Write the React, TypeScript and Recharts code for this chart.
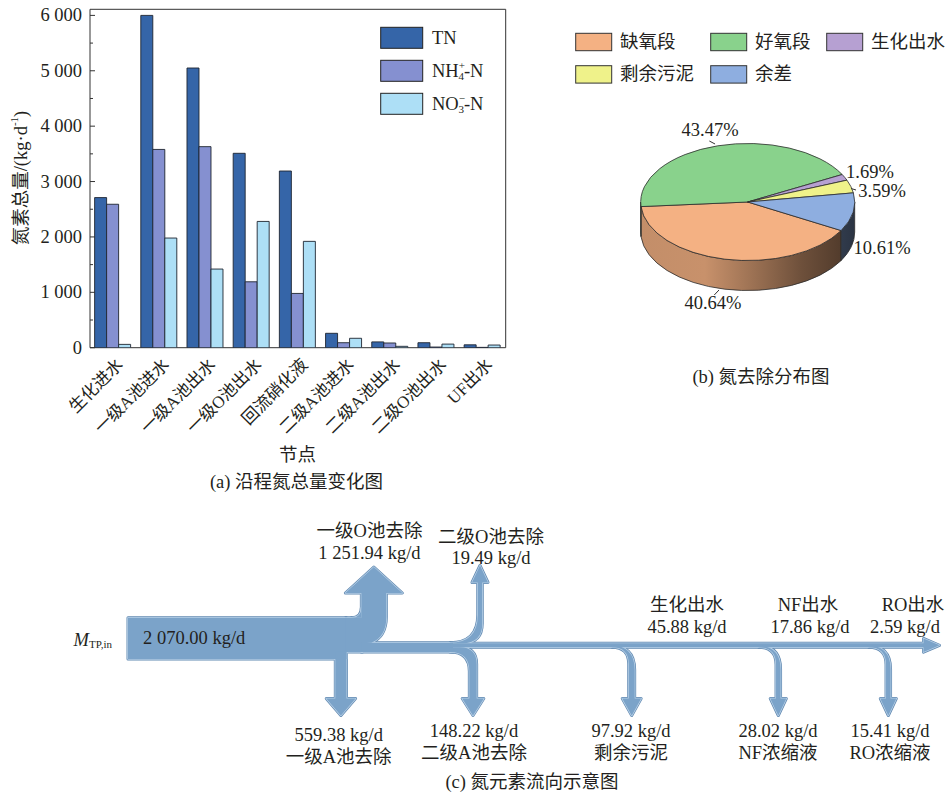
import React from 'react';
import {
  BarChart,
  Bar,
  XAxis,
  YAxis,
  ReferenceArea,
  PieChart,
  Pie,
  Cell,
  Surface,
} from 'recharts';

const FONT = "'Liberation Serif', 'Times New Roman', 'Noto Sans CJK SC', serif";
const INK = '#231f20';
const AXIS = '#333333';

// (a) 沿程氮总量 (kg/d)
const NODES = ['生化进水', '一级A池进水', '一级A池出水', '一级O池出水', '回流硝化液', '二级A池进水', '二级A池出水', '二级O池出水', 'UF出水'];
const TN = [2710, 6000, 5050, 3510, 3190, 260, 105, 90, 52];
const NH4 = [2590, 3580, 3630, 1190, 980, 90, 85, 12, 6];
const NO3 = [60, 1980, 1420, 2280, 1920, 170, 25, 65, 48];
const LOAD_TICKS = [0, 500, 1000, 1500, 2000, 2500, 3000, 3500, 4000, 4500, 5000, 5500, 6000];

// (b) 氮去除分布 (%)
const PIE_NAMES = ['缺氧段', '好氧段', '生化出水', '剩余污泥', '余差'];
const PIE_SHARES = [40.64, 43.47, 1.69, 3.59, 10.61];
const PIE_COLORS = ['#f4b183', '#89d28c', '#b6a0d2', '#eff28a', '#8eaee0'];

// (c) 氮元素流向 (kg/d)
const FLOW_IN = 2070.0;
const UP_NAMES = ['一级O池去除', '二级O池去除'];
const UP_VALUES = [1251.94, 19.49];
const DOWN_NAMES = ['一级A池去除', '二级A池去除', '剩余污泥', 'NF浓缩液', 'RO浓缩液'];
const DOWN_VALUES = [559.38, 148.22, 97.92, 28.02, 15.41];
const OUT_NAMES = ['生化出水', 'NF出水', 'RO出水'];
const OUT_VALUES = [45.88, 17.86, 2.59];

const BAR_COLORS = { TN: '#3565a8', NH4: '#8590d0', NO3: '#addff6' };

const rows = NODES.map((node, i) => ({ node, TN: TN[i], NH4: NH4[i], NO3: NO3[i] }));
const pieData = PIE_NAMES.map((name, i) => ({ name, value: PIE_SHARES[i] }));

const fmtLoad = (v: number) =>
  v >= 1000 ? `${Math.floor(v / 1000)} ${String(v % 1000).padStart(3, '0')}` : String(v);

const fmtKg = (v: number) => {
  const [i, d] = v.toFixed(2).split('.');
  const head = i.length > 3 ? `${i.slice(0, -3)} ${i.slice(-3)}` : i;
  return `${head}.${d} kg/d`;
};

const LoadTick = (props: any) => {
  const { x, y, payload } = props;
  const v = payload.value as number;
  const major = v % 1000 === 0;
  return (
    <g>
      <line x1={x} x2={x + (major ? 5 : 3)} y1={y} y2={y} stroke={AXIS} />
      {major && (
        <text x={x - 8} y={y} textAnchor="end" dominantBaseline="central" fontSize={18.5} fill={INK} fontFamily={FONT}>
          {fmtLoad(v)}
        </text>
      )}
    </g>
  );
};

const NodeTick = (props: any) => {
  const { x, y, payload } = props;
  return (
    <text
      transform={`translate(${x + 11},${y + 18}) rotate(-45)`}
      textAnchor="end"
      fontSize={17}
      fill={INK}
      fontFamily={FONT}
    >
      {payload.value}
    </text>
  );
};

// ---------- 3D pie pieces ----------
const TILT = 0.547;
const DEPTH = 30;
const RAD = Math.PI / 180;

const shade = (hex: string, f: number) => {
  const n = parseInt(hex.slice(1), 16);
  const r = Math.round(((n >> 16) & 255) * f);
  const g = Math.round(((n >> 8) & 255) * f);
  const b = Math.round((n & 255) * f);
  return `rgb(${r},${g},${b})`;
};

const PIE_LABELS = [
  { dx: -11.8, dy: 13.8, bottom: true, line: [-5.8, 0.8, -10.5, 5.8] },
  { dx: -7.7, dy: -15.8, bottom: false, line: [-2.7, -1.8, -8.4, -4.8] },
  { dx: 25.3, dy: -5, bottom: false, line: null },
  { dx: 31.2, dy: 4.6, bottom: false, line: [0.2, 2.1, 5.2, 3.6] },
  { dx: 29, dy: 35.4, bottom: false, line: null },
];

const renderSlice3D = (props: any) => {
  const { cx, cy, outerRadius, startAngle, endAngle, midAngle, index, payload } = props;
  const rx = outerRadius;
  const ry = rx * TILT;
  const color = PIE_COLORS[index];
  const pt = (a: number, dy = 0) => `${cx + rx * Math.cos(a * RAD)},${cy - ry * Math.sin(a * RAD) + dy}`;
  const a1 = Math.max(startAngle, endAngle);
  const a2 = Math.min(startAngle, endAngle);
  const large = a1 - a2 > 180 ? 1 : 0;
  const top = `M${cx},${cy} L${pt(a1)} A${rx},${ry} 0 ${large} 1 ${pt(a2)} Z`;

  // visible front wall: the part of the arc lying on the lower half of the ellipse
  const walls: string[] = [];
  [0, -360, 360, -720].forEach((k) => {
    const hi = Math.min(a1, k);
    const lo = Math.max(a2, -180 + k);
    if (hi > lo) {
      walls.push(
        `M${pt(hi)} A${rx},${ry} 0 0 1 ${pt(lo)} L${pt(lo, DEPTH)} A${rx},${ry} 0 0 0 ${pt(hi, DEPTH)} Z`
      );
    }
  });

  const lay = PIE_LABELS[index];
  const px = cx + rx * Math.cos(midAngle * RAD);
  const py = cy - ry * Math.sin(midAngle * RAD) + (lay.bottom ? DEPTH : 0);
  const gid = `pieSide${index}`;

  return (
    <g key={`slice-${index}`}>
      <defs>
        <linearGradient id={gid} gradientUnits="userSpaceOnUse" x1={cx - rx} x2={cx + rx} y1={0} y2={0}>
          <stop offset="0" stopColor={shade(color, 0.8)} />
          <stop offset="0.3" stopColor={shade(color, 0.82)} />
          <stop offset="0.5" stopColor={shade(color, 0.66)} />
          <stop offset="0.75" stopColor={shade(color, 0.45)} />
          <stop offset="1" stopColor={shade(color, 0.3)} />
        </linearGradient>
      </defs>
      {walls.map((d, i) => (
        <path key={i} d={d} fill={`url(#${gid})`} stroke="#2b2b2b" strokeWidth={0.8} strokeLinejoin="round" />
      ))}
      <path d={top} fill={color} stroke="#2b2b2b" strokeWidth={0.8} strokeLinejoin="round" />
      {lay.line && (
        <line
          x1={px + lay.line[0]}
          y1={py + lay.line[1]}
          x2={px + lay.line[2]}
          y2={py + lay.line[3]}
          stroke="#333"
          strokeWidth={1}
        />
      )}
      <text
        x={px + lay.dx}
        y={py + lay.dy}
        textAnchor="middle"
        dominantBaseline="central"
        fontSize={18.5}
        fill={INK}
        fontFamily={FONT}
      >
        {`${payload.value.toFixed(2)}%`}
      </text>
    </g>
  );
};

// ---------- flow diagram ----------
const FLOW = {
  left: 128,
  top: 617.7,
  trunkH: 41.3,
  lineY: 645.3,
  lineW: 4,
  bandBottom: 652,
  arrowEnd: 939.5,
  upX: [373.85, 480],
  upTip: [567, 565.5],
  downX: [340.9, 473, 631.7, 778.3, 888.3],
  downTip: 715.5,
  branchFrom: [0, 450, 610, 756.7, 866.7],
};
const K = FLOW.trunkH / FLOW_IN;

const flowWidth = (v: number) => {
  const w = v * K;
  return w >= 8 ? w : Math.min(8, Math.max(4.5, 0.6 * Math.sqrt(v)));
};
const arrowHead = (w: number) => {
  const hw = w + 3.5;
  return { hw, len: Math.max(17, Math.min(26, hw * 0.94)) };
};

function flowPieces(): string[] {
  const T = FLOW.top;
  const B = T + FLOW_IN * K;
  const lineTop = FLOW.lineY - FLOW.lineW / 2;
  const lineBot = FLOW.lineY + FLOW.lineW / 2;
  const bandBot = FLOW.bandBottom;
  const wU = UP_VALUES.map(flowWidth);
  const wD = DOWN_VALUES.map(flowWidth);
  const out: string[] = [];

  // first split: up (一级O) and down (一级A)
  const ux = FLOW.upX[0];
  const uL = ux - wU[0] / 2;
  const uR = ux + wU[0] / 2;
  const bandTop = T + wU[0];
  const h1 = arrowHead(wU[0]);
  const ub = FLOW.upTip[0] + h1.len;
  const dx = FLOW.downX[0];
  const dL = dx - wD[0] / 2;
  const dR = dx + wD[0] / 2;
  const h2 = arrowHead(wD[0]);
  const db = FLOW.downTip - h2.len;

  out.push(`M${FLOW.left},${T} H${dR} V${B} H${FLOW.left} Z`);
  out.push(`M${dR - 1},${T} H${uL + 1} V${bandBot} H${dR - 1} Z`);
  out.push(`M${uL - 10},${T} L${uL},${T} L${uL},${T - 10} Q${uL},${T} ${uL - 10},${T} Z`);
  out.push(
    `M${uL},${bandTop + 0.5} L${uL},${ub} L${ux - h1.hw},${ub} L${ux},${FLOW.upTip[0]} L${ux + h1.hw},${ub} L${uR},${ub} L${uR},${bandTop - 26} Q${uR},${bandTop - 6} ${uR - 15},${bandTop} Z`
  );
  out.push(
    `M${dL},${B - 1} L${dL},${db} L${dx - h2.hw},${db} L${dx},${FLOW.downTip} L${dx + h2.hw},${db} L${dR},${db} L${dR},${bandBot - 0.5} L${dL},${bandBot - 0.5} Z`
  );

  const from = FLOW.branchFrom[1];
  out.push(`M${uL},${bandTop} H${from + 3} V${bandBot} H${uL} Z`);

  // second split: thin up (二级O) and down (二级A)
  {
    const x = FLOW.upX[1];
    const l = x - wU[1] / 2;
    const r = x + wU[1] / 2;
    const h = arrowHead(wU[1]);
    const b = FLOW.upTip[1] + h.len;
    const R = l - from;
    const Ri = 20;
    out.push(
      `M${from},${bandTop} Q${l},${bandTop} ${l},${bandTop - R} L${l},${b} L${x - h.hw},${b} L${x},${FLOW.upTip[1]} L${x + h.hw},${b} L${r},${b} L${r},${lineTop - Ri} Q${r},${lineTop} ${r - Ri},${lineTop} L${from},${lineTop} Z`
    );
  }
  {
    const x = FLOW.downX[1];
    const l = x - wD[1] / 2;
    const r = x + wD[1] / 2;
    const h = arrowHead(wD[1]);
    const b = FLOW.downTip - h.len;
    const Ri = l - from;
    const Ro = 17;
    out.push(
      `M${from},${lineBot} L${r - Ro},${lineBot} Q${r},${lineBot} ${r},${lineBot + Ro} L${r},${b} L${x + h.hw},${b} L${x},${FLOW.downTip} L${x - h.hw},${b} L${l},${b} L${l},${bandBot + Ri} Q${l},${bandBot} ${from},${bandBot} Z`
    );
  }

  // main line with the outlet arrow
  const arrowBase = FLOW.arrowEnd - 16;
  out.push(`M${from},${lineTop} H${arrowBase + 0.5} V${lineBot} H${from} Z`);
  out.push(`M${arrowBase},${FLOW.lineY - 6.8} L${FLOW.arrowEnd},${FLOW.lineY} L${arrowBase},${FLOW.lineY + 6.8} Z`);

  // later branches off the line
  for (let i = 2; i < DOWN_VALUES.length; i++) {
    const bx = FLOW.branchFrom[i];
    const x = FLOW.downX[i];
    const w = wD[i];
    const l = x - w / 2;
    const r = x + w / 2;
    const h = arrowHead(w);
    const b = FLOW.downTip - h.len;
    const Ro = r - bx;
    const Ri = l - bx - 2;
    out.push(
      `M${bx},${FLOW.lineY} Q${r},${FLOW.lineY} ${r},${FLOW.lineY + Ro} L${r},${b} L${x + h.hw},${b} L${x},${FLOW.downTip} L${x - h.hw},${b} L${l},${b} L${l},${lineBot + Ri} Q${l},${lineBot} ${l - Ri},${lineBot} Z`
    );
  }
  return out;
}

const UP_LABEL = { x: [369.5, 491], nameY: [531, 537], valueY: [553, 558] };
const DOWN_LABEL = { x: [338.7, 474, 631, 778, 890], valueY: [735, 731, 731, 731, 731], nameY: [757, 753, 753, 753, 753] };
const OUT_LABEL = { nameX: [687, 808, 913], valueX: [687, 810, 905], nameY: 605, valueY: 627 };

const T18 = { fontSize: 18.5, fill: INK, fontFamily: FONT } as const;

function FlowDiagram() {
  const pieces = flowPieces();
  return (
    <g>
      <g>
        {pieces.map((d, i) => (
          <path key={`e${i}`} d={d} fill="none" stroke="#6189b1" strokeWidth={3} strokeLinejoin="round" />
        ))}
      </g>
      <g>
        {pieces.map((d, i) => (
          <path key={`h${i}`} d={d} fill="none" stroke="#b7d0e7" strokeWidth={1.6} strokeLinejoin="round" />
        ))}
      </g>
      <g>
        {pieces.map((d, i) => (
          <path key={`f${i}`} d={d} fill="#7ba3c9" />
        ))}
      </g>

      <text x={73.6} y={640} dominantBaseline="central" {...T18}>
        <tspan fontStyle="italic">M</tspan>
        <tspan fontSize={11} dy={4}>TP,in</tspan>
      </text>
      <text x={143} y={638} dominantBaseline="central" {...T18}>
        {fmtKg(FLOW_IN)}
      </text>

      {UP_NAMES.map((name, i) => (
        <g key={name}>
          <text x={UP_LABEL.x[i]} y={UP_LABEL.nameY[i]} textAnchor="middle" dominantBaseline="central" {...T18}>
            {name}
          </text>
          <text x={UP_LABEL.x[i]} y={UP_LABEL.valueY[i]} textAnchor="middle" dominantBaseline="central" {...T18}>
            {fmtKg(UP_VALUES[i])}
          </text>
        </g>
      ))}
      {DOWN_NAMES.map((name, i) => (
        <g key={name}>
          <text x={DOWN_LABEL.x[i]} y={DOWN_LABEL.valueY[i]} textAnchor="middle" dominantBaseline="central" {...T18}>
            {fmtKg(DOWN_VALUES[i])}
          </text>
          <text x={DOWN_LABEL.x[i]} y={DOWN_LABEL.nameY[i]} textAnchor="middle" dominantBaseline="central" {...T18}>
            {name}
          </text>
        </g>
      ))}
      {OUT_NAMES.map((name, i) => (
        <g key={name}>
          <text x={OUT_LABEL.nameX[i]} y={OUT_LABEL.nameY} textAnchor="middle" dominantBaseline="central" {...T18}>
            {name}
          </text>
          <text x={OUT_LABEL.valueX[i]} y={OUT_LABEL.valueY} textAnchor="middle" dominantBaseline="central" {...T18}>
            {fmtKg(OUT_VALUES[i])}
          </text>
        </g>
      ))}
      <text x={532} y={781.5} textAnchor="middle" dominantBaseline="central" {...T18}>
        (c) 氮元素流向示意图
      </text>
    </g>
  );
}

function Annotations() {
  const barLegend = [
    { key: 'TN', y: 27.3 },
    { key: 'NH4', y: 60.3 },
    { key: 'NO3', y: 93.3 },
  ] as const;
  const pieLegend = [
    { x: 575.7, y: 33.3 },
    { x: 710.7, y: 33.3 },
    { x: 826.7, y: 33.3 },
    { x: 575.7, y: 65.7 },
    { x: 710.7, y: 65.7 },
  ];
  return (
    <g>
      {/* (a) */}
      <text transform="translate(21,178) rotate(-90)" textAnchor="middle" dominantBaseline="central" {...T18}>
        氮素总量/(kg·d<tspan fontSize={11} dy={-7}>-1</tspan>
        <tspan dy={7}>)</tspan>
      </text>
      {barLegend.map((it) => (
        <rect
          key={it.key}
          x={380.7}
          y={it.y}
          width={42}
          height={21}
          fill={BAR_COLORS[it.key]}
          stroke="#222"
          strokeWidth={1}
        />
      ))}
      <text x={432} y={37.8} dominantBaseline="central" {...T18}>
        TN
      </text>
      <text x={432} y={70.8} dominantBaseline="central" {...T18}>
        NH<tspan fontSize={11} dy={-6}>+</tspan>
        <tspan fontSize={11} dx={-6.5} dy={11}>4</tspan>
        <tspan dy={-5}>-N</tspan>
      </text>
      <text x={432} y={103.8} dominantBaseline="central" {...T18}>
        NO<tspan fontSize={11} dy={-6}>−</tspan>
        <tspan fontSize={11} dx={-6.5} dy={11}>3</tspan>
        <tspan dy={-5}>-N</tspan>
      </text>
      <text x={297.5} y={455} textAnchor="middle" dominantBaseline="central" {...T18}>
        节点
      </text>
      <text x={296.5} y={481.5} textAnchor="middle" dominantBaseline="central" {...T18}>
        (a) 沿程氮总量变化图
      </text>

      {/* (b) */}
      {PIE_NAMES.map((name, i) => (
        <g key={name}>
          <rect
            x={pieLegend[i].x}
            y={pieLegend[i].y}
            width={36}
            height={17.4}
            fill={PIE_COLORS[i]}
            stroke="#333"
            strokeWidth={1}
          />
          <text x={pieLegend[i].x + 44.3} y={pieLegend[i].y + 8.7} dominantBaseline="central" {...T18}>
            {name}
          </text>
        </g>
      ))}
      <text x={761} y={377} textAnchor="middle" dominantBaseline="central" {...T18}>
        (b) 氮去除分布图
      </text>

      <FlowDiagram />
    </g>
  );
}

export default function App() {
  return (
    <div
      style={{
        position: 'absolute',
        left: 0,
        top: 0,
        width: 946,
        height: 796,
        background: '#ffffff',
        overflow: 'hidden',
        fontFamily: FONT,
      }}
    >
      <div style={{ position: 'absolute', left: 0, top: 0 }}>
        <BarChart
          width={520}
          height={470}
          data={rows}
          margin={{ top: 9.3, right: 14.3, bottom: 0, left: 0 }}
          barCategoryGap="10%"
          barGap={0}
        >
          <XAxis
            dataKey="node"
            height={122.3}
            interval={0}
            axisLine={false}
            tickLine={false}
            tickSize={0}
            tickMargin={0}
            tick={<NodeTick />}
          />
          <YAxis
            type="number"
            width={90}
            domain={[0, 6110]}
            ticks={LOAD_TICKS}
            interval={0}
            allowDataOverflow
            axisLine={false}
            tickLine={false}
            tickSize={0}
            tickMargin={0}
            tick={<LoadTick />}
          />
          <Bar dataKey="TN" fill={BAR_COLORS.TN} stroke="#1e2530" strokeWidth={0.9} isAnimationActive={false} />
          <Bar dataKey="NH4" fill={BAR_COLORS.NH4} stroke="#1e2530" strokeWidth={0.9} isAnimationActive={false} />
          <Bar dataKey="NO3" fill={BAR_COLORS.NO3} stroke="#1e2530" strokeWidth={0.9} isAnimationActive={false} />
          <ReferenceArea y1={0} y2={6110} fill="none" stroke={AXIS} strokeWidth={1} ifOverflow="visible" />
        </BarChart>
      </div>

      <div style={{ position: 'absolute', left: 560, top: 100 }}>
        <PieChart width={386} height={230} margin={{ top: 0, right: 0, bottom: 0, left: 0 }}>
          <Pie
            data={pieData}
            dataKey="value"
            nameKey="name"
            cx={187.7}
            cy={102}
            innerRadius={0}
            outerRadius={107}
            startAngle={-29.2}
            endAngle={-389.2}
            fillOpacity={0}
            stroke="none"
            label={renderSlice3D}
            labelLine={false}
            isAnimationActive={false}
          >
            {pieData.map((d, i) => (
              <Cell key={d.name} fill={PIE_COLORS[i]} />
            ))}
          </Pie>
        </PieChart>
      </div>

      <div style={{ position: 'absolute', left: 0, top: 0, pointerEvents: 'none' }}>
        <Surface width={946} height={796}>
          <Annotations />
        </Surface>
      </div>
    </div>
  );
}
